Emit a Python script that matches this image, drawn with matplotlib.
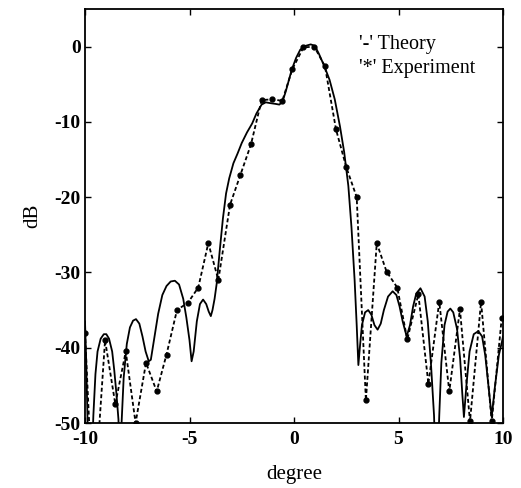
import matplotlib
matplotlib.use("Agg")
import matplotlib.pyplot as plt

plt.rcParams['font.family'] = ['Liberation Serif', 'DejaVu Serif']
plt.rcParams['axes.unicode_minus'] = False

# Theory curve (degree, dB)
theory_deg = [-10.00, -9.95, -9.90, -9.85, -9.75, -9.65, -9.60, -9.50, -9.40, -9.25,
              -9.10, -8.98, -8.85, -8.70, -8.60, -8.50, -8.40, -8.32, -8.25, -8.15,
              -8.00, -7.85, -7.70, -7.56, -7.40, -7.25, -7.10, -6.95, -6.85, -6.70,
              -6.50, -6.30, -6.10, -5.90, -5.70, -5.50, -5.30, -5.15, -5.00, -4.90,
              -4.80, -4.65, -4.50, -4.35, -4.20, -4.08, -3.98, -3.90, -3.80, -3.70,
              -3.55, -3.40, -3.25, -3.10, -2.90, -2.70, -2.50, -2.25, -2.00, -1.80,
              -1.55, -1.35, -1.15, -0.90, -0.70, -0.55, -0.40, -0.25, -0.10, 0.10,
              0.30, 0.55, 0.80, 1.00, 1.20, 1.45, 1.70, 1.95, 2.20, 2.40,
              2.60, 2.75, 2.90, 3.00, 3.08, 3.15, 3.25, 3.40, 3.55, 3.70,
              3.85, 4.00, 4.15, 4.30, 4.50, 4.72, 4.90, 5.05, 5.20, 5.39,
              5.55, 5.70, 5.85, 6.05, 6.25, 6.40, 6.55, 6.70, 6.82, 6.95,
              7.05, 7.20, 7.35, 7.48, 7.62, 7.80, 7.95, 8.05, 8.13, 8.25,
              8.40, 8.60, 8.82, 9.00, 9.15, 9.30, 9.46, 9.60, 9.80, 9.95, 10.00]
theory_db = [-36.5, -41.0, -47.0, -53.0, -62.0, -53.0, -49.0, -43.5, -40.5, -38.8,
             -38.2, -38.2, -38.8, -40.5, -43.0, -46.0, -49.5, -56.0, -50.0, -44.0,
             -39.5, -37.3, -36.4, -36.2, -36.8, -38.5, -40.5, -41.8, -41.6, -39.0,
             -35.5, -33.0, -31.8, -31.2, -31.1, -31.6, -33.5, -36.0, -39.0, -41.8,
             -40.5, -36.5, -34.2, -33.6, -34.2, -35.2, -35.8, -35.0, -33.5, -31.5,
             -27.0, -22.8, -19.5, -17.5, -15.5, -14.2, -12.8, -11.4, -10.2, -8.9,
             -7.7, -7.4, -7.5, -7.6, -7.7, -7.3, -6.0, -4.5, -3.0, -1.5,
             -0.4, 0.1, 0.3, 0.1, -1.0, -2.6, -4.4, -7.0, -10.6, -14.0,
             -18.5, -24.0, -31.0, -37.0, -42.3, -40.0, -37.0, -35.3, -35.0, -35.6,
             -37.0, -37.6, -36.8, -35.0, -33.2, -32.5, -33.0, -34.5, -36.5, -38.5,
             -37.0, -34.5, -32.8, -32.1, -33.2, -36.5, -42.0, -49.0, -60.0, -49.0,
             -42.0, -37.0, -35.2, -34.8, -35.3, -37.5, -41.5, -46.0, -49.2, -45.0,
             -40.5, -38.2, -37.8, -38.5, -41.0, -45.0, -49.2, -45.5, -41.0, -39.2, -38.5]

# Experiment points (degree, dB)
exp_deg = [-10.00, -9.60, -9.04, -8.55, -8.05, -7.58, -7.08, -6.57, -6.10, -5.60,
           -5.07, -4.58, -4.10, -3.62, -3.06, -2.56, -2.06, -1.55, -1.04, -0.56,
           -0.08, 0.45, 0.97, 1.48, 2.01, 2.50, 3.00, 3.44, 3.96, 4.43,
           4.94, 5.42, 5.95, 6.43, 6.95, 7.43, 7.94, 8.42, 8.95, 9.46, 9.94]
exp_db = [-38.0, -62.0, -39.0, -47.5, -40.5, -50.0, -42.0, -45.8, -40.9, -35.0,
          -34.0, -32.0, -26.1, -31.0, -21.0, -17.0, -13.0, -7.1, -7.0, -7.2,
          -3.0, -0.1, 0.0, -2.6, -11.0, -16.0, -20.0, -47.0, -26.1, -29.9,
          -32.0, -38.9, -32.9, -44.8, -33.9, -45.8, -34.9, -49.8, -33.9, -49.8, -36.0]

x_ticks = [-10, -5, 0, 5, 10]
y_ticks = [0, -10, -20, -30, -40, -50]
legend_lines = ["'-' Theory", "'*' Experiment"]

fig = plt.figure(figsize=(5.21, 4.88), dpi=100)
ax = fig.add_axes([85/521, 1-423/488, (503-85)/521, (423-9)/488])

ax.plot(theory_deg, theory_db, color='black', lw=1.3, solid_joinstyle='round')
ax.plot(exp_deg, exp_db, color='black', lw=1.3, linestyle=(0, (2.2, 1.4)),
        marker='o', markersize=3.5)

ax.set_xlim(-10, 10)
ax.set_ylim(-50, 5)
ax.set_xticks(x_ticks)
ax.set_yticks(y_ticks)
ax.set_xticklabels([str(t) for t in x_ticks])
ax.set_yticklabels([str(t) for t in y_ticks])
ax.tick_params(direction='in', top=True, right=True, length=4, width=1,
               labelsize=14)
ax.tick_params(axis='x', pad=6)
ax.tick_params(axis='y', pad=3)
for lab in ax.get_xticklabels() + ax.get_yticklabels():
    lab.set_fontweight('bold')
for s in ax.spines.values():
    s.set_linewidth(1.3)

ax.set_xlabel('degree', fontsize=15, labelpad=12)
ax.set_ylabel('dB', fontsize=15, labelpad=9)

ax.text(0.655, 0.915, legend_lines[0], transform=ax.transAxes, fontsize=14.5,
        va='center', ha='left')
ax.text(0.655, 0.857, legend_lines[1], transform=ax.transAxes, fontsize=14.5,
        va='center', ha='left')

fig.savefig('out.png', dpi=100)
